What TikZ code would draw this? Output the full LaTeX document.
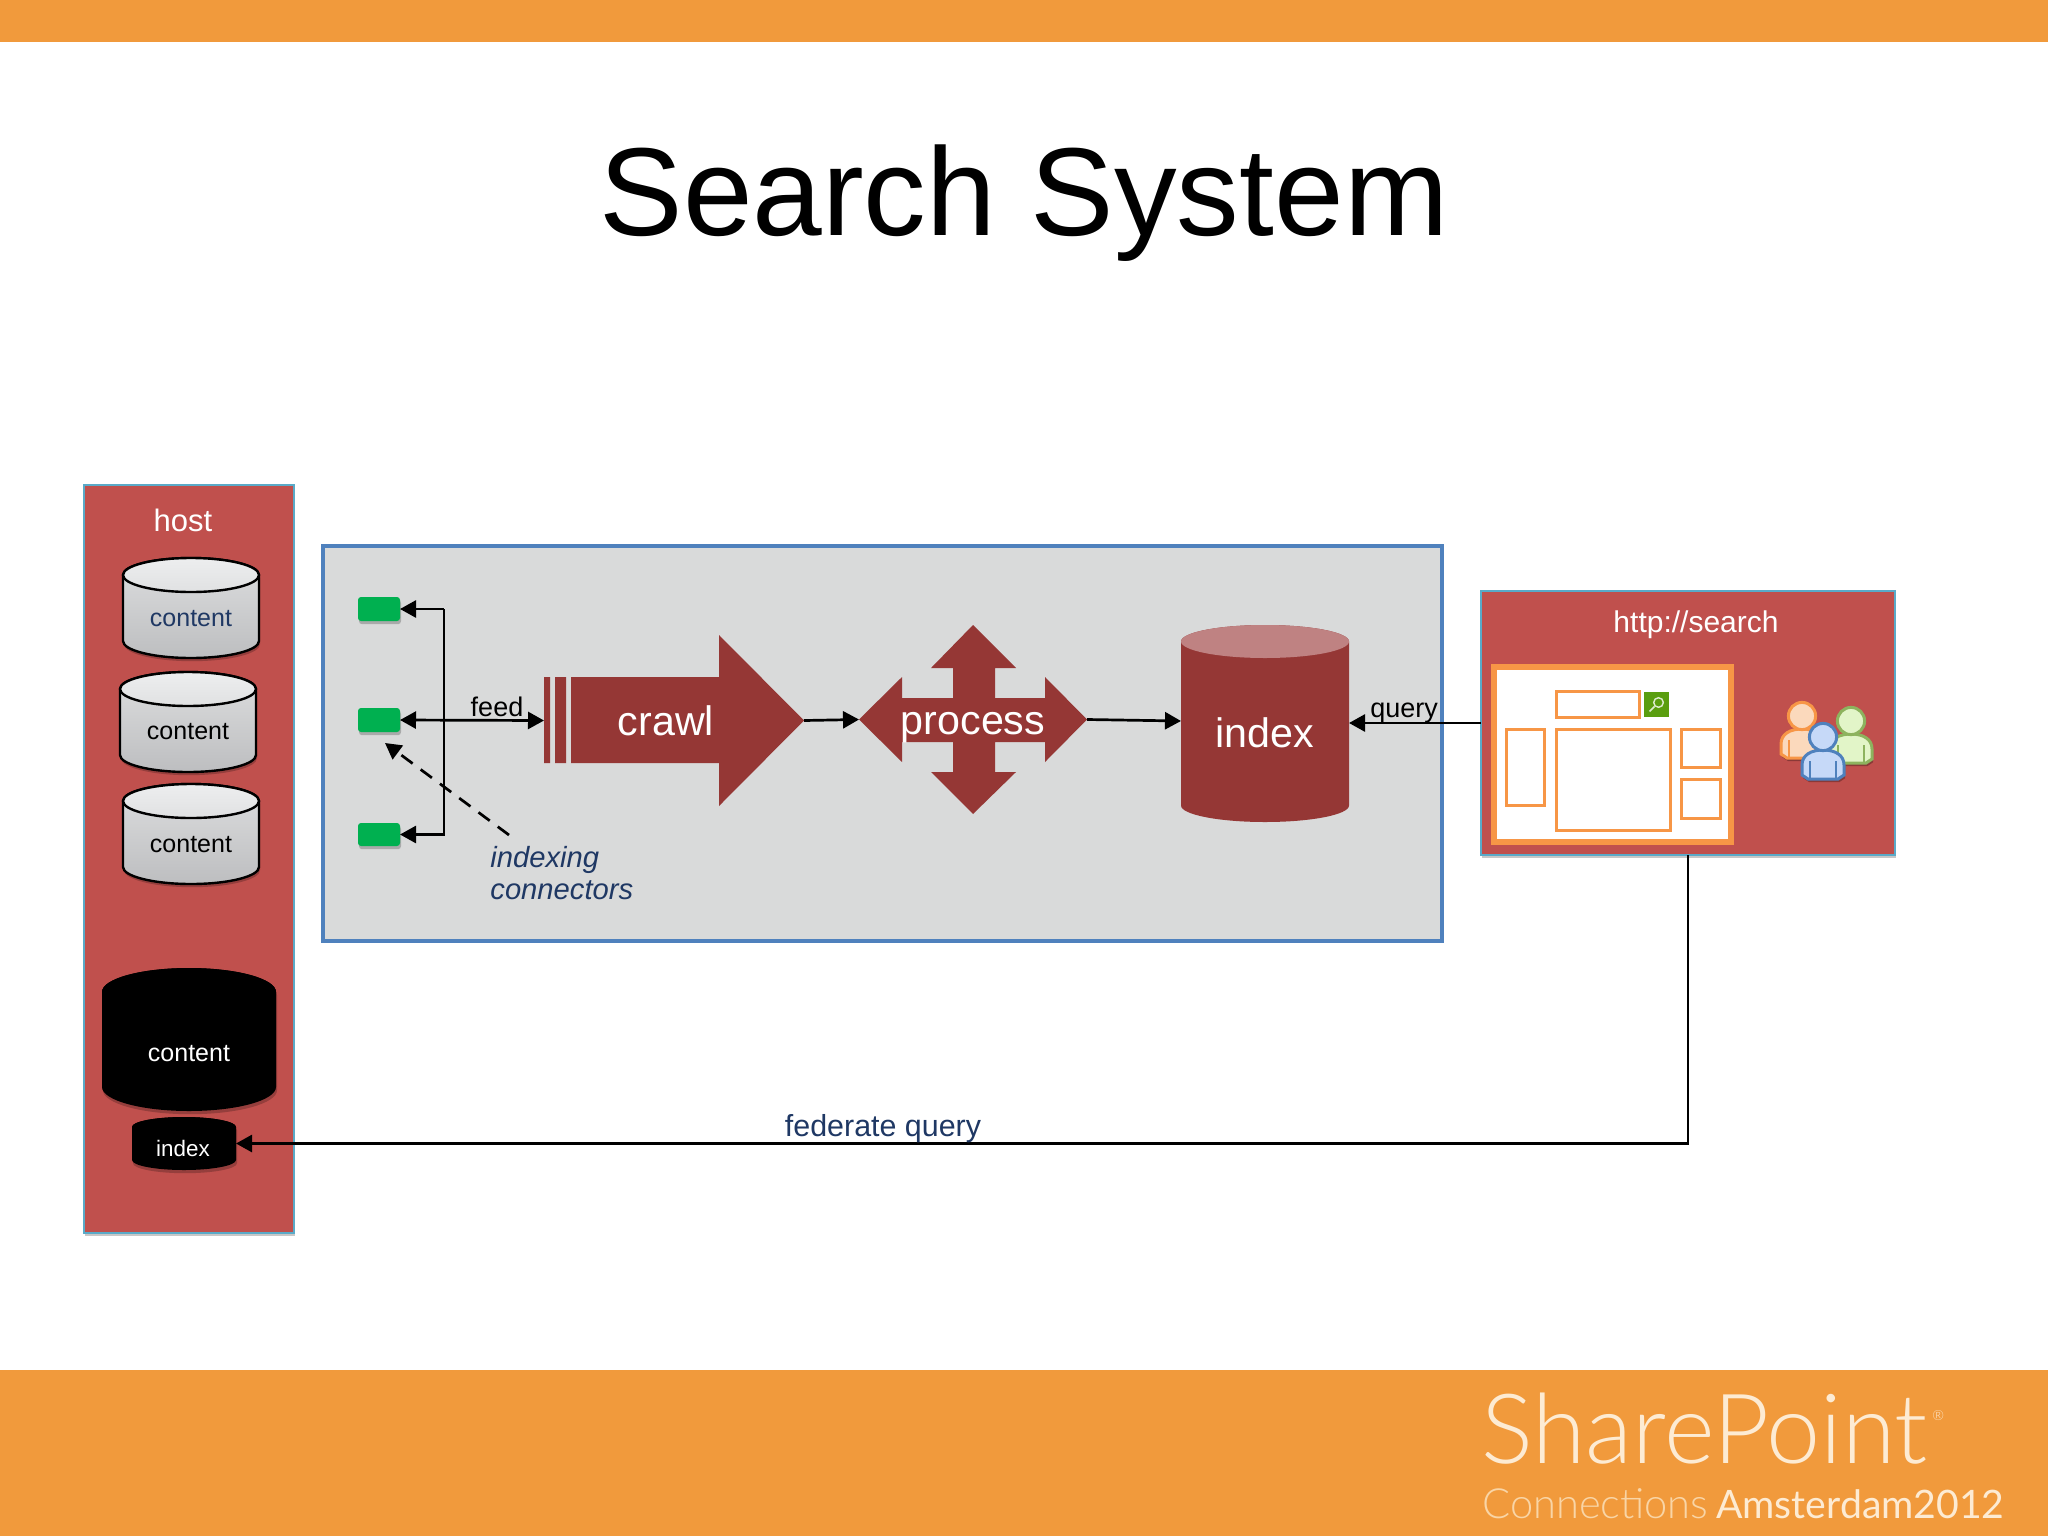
\documentclass[tikz,border=0pt]{standalone}
\usepackage{fontspec}
\setmainfont{Liberation Sans}
\newfontfamily\logofont{Lato Light}
\newfontfamily\logoreg{Lato}
\usetikzlibrary{arrows.meta,shadows}
\definecolor{band}{HTML}{F19A3C}
\definecolor{hostred}{HTML}{C0504D}
\definecolor{hostedge}{HTML}{5AAAC8}
\definecolor{deepred}{HTML}{953735}
\definecolor{toptint}{HTML}{BF8282}
\definecolor{panel}{HTML}{D9DADA}
\definecolor{panededge}{HTML}{4F81BD}
\definecolor{conngreen}{HTML}{00B050}
\definecolor{navy}{HTML}{1F3864}
\definecolor{pageorange}{HTML}{F79646}
\definecolor{btngreen}{HTML}{5A9E0F}
\definecolor{logocream}{HTML}{FDEBD3}
\definecolor{logopale}{HTML}{F9D5A6}
\definecolor{cyltop}{HTML}{EDEEEF}
\definecolor{cyltoplow}{HTML}{E0E1E2}
\definecolor{cylhigh}{HTML}{DDDEDF}
\definecolor{cyllow}{HTML}{BDBEC0}
\definecolor{persongreenedge}{HTML}{8DB35E}
\definecolor{persongreen}{HTML}{E2F5C8}
\definecolor{personblue}{HTML}{C6D9F8}
\definecolor{personpeach}{HTML}{FBD9BC}
\tikzset{
  softshadow/.style={drop shadow={shadow xshift=0.5pt,shadow yshift=-1.6pt,opacity=.22,fill=black}},
  hostbox/.style={draw=hostedge,line width=1.4pt,fill=hostred,softshadow},
  panelbox/.style={draw=panededge,line width=2.4pt,fill=panel},
  connbox/.style={fill=conngreen,rounded corners=1.5pt,softshadow},
  invisible/.style={},
  arrowline/.style={line width=1.35pt,black,-{Triangle[length=8pt,width=8.5pt]}},
  twoway/.style={line width=1.35pt,black,{Triangle[length=8pt,width=8.5pt]}-{Triangle[length=8pt,width=8.5pt]}},
  dashline/.style={line width=1.35pt,black,dash pattern=on 7pt off 5pt,-{Triangle[length=8pt,width=8.5pt]}},
  pagebox/.style={draw=pageorange,line width=1.5pt,fill=white},
  graycyl/.style={top color=cylhigh,bottom color=cyllow,draw=black,line width=1.2pt,softshadow},
  graytop/.style={top color=cyltop,bottom color=cyltoplow,draw=black,line width=1.2pt},
  lab/.style={anchor=base,inner sep=0pt},
  whitelab/.style={lab,text=white},
  figlab/.style={lab,font=\fontsize{20.6}{24}\selectfont,text=white},
  smalllab/.style={lab,font=\fontsize{12.5}{15}\selectfont},
}
\newcommand\bx[6]{%
  \pgfmathsetmacro\bw{(#5-#3)/2}\pgfmathsetmacro\bh{(#6-#4)/2}%
  \pgfmathsetmacro\bcx{(#3+#5)/2}\pgfmathsetmacro\bcy{(#4+#6)/2}%
  \node[inner sep=0pt,outer sep=0pt,minimum width=\bw pt,minimum height=\bh pt,#1] (#2) at (\bcx,\bcy) {};}
% cylinder: body style, top style, name, x1,y1,x2,y2,ry
\newcommand\cyl[8]{%
  \pgfmathsetmacro\rxx{(#6-#4)/4}\pgfmathsetmacro\ryy{#8/2}%
  \pgfmathsetmacro\cxx{(#4+#6)/2}\pgfmathsetmacro\ya{#5+#8}\pgfmathsetmacro\yb{#7-#8}%
  \path[#1] (#4,\ya) -- (#4,\yb) arc[start angle=180,end angle=360,x radius=\rxx pt,y radius=\ryy pt]
     -- (#6,\ya) arc[start angle=0,end angle=180,x radius=\rxx pt,y radius=\ryy pt] -- cycle;
  \path[#2] (\cxx,\ya) ellipse[x radius=\rxx pt,y radius=\ryy pt];
  \bx{invisible}{#3}{#4}{#5}{#6}{#7}}
% person icon: cx, cy, edge colour, fill colour
\newcommand\personicon[4]{%
  \begin{scope}[shift={(#1,#2)}]
    \path[draw=#3,line width=1.5pt,fill=#4,drop shadow={shadow xshift=0.6pt,shadow yshift=-1.6pt,opacity=.28,fill=black}]
      (-21,38) -- (-21,28) .. controls (-21,18) and (-12,13) .. (0,13) .. controls (12,13) and (21,18) .. (21,28)
      -- (21,38) -- (15,42) -- (-15,42) -- (-21,38) -- cycle;
    \draw[draw=#3,line width=1pt] (-13,24) -- (-13,41) (13,24) -- (13,41);
    \path[draw=#3,line width=1.5pt,fill=#4] (0,0) circle[radius=6.8pt];
  \end{scope}}
\begin{document}
\begin{tikzpicture}[x=0.5pt,y=-0.5pt]
\useasboundingbox (0,0) rectangle (2048,1536);
\fill[white] (0,0) rectangle (2048,1536);
\bx{fill=band}{topband}{0}{0}{2048}{42}
\bx{fill=band}{footband}{0}{1370}{2048}{1536}
\node[lab,font=\fontsize{62.6}{70}\selectfont] (title) at (1024,235) {Search System};

% host
\bx{hostbox}{host}{84}{485}{294}{1233}
\node[whitelab,font=\fontsize{15.5}{18}\selectfont] (hostlab) at (183,531) {host};
\cyl{graycyl}{graytop}{c1}{123}{558}{259}{658}{17}
\cyl{graycyl}{graytop}{c2}{120}{672}{256}{772}{17}
\cyl{graycyl}{graytop}{c3}{123}{784}{259}{884}{17}
\node[smalllab,text=navy] (c1lab) at (191,626) {content};
\node[smalllab] (c2lab) at (188,739) {content};
\node[smalllab] (c3lab) at (191,852) {content};
\cyl{fill=black,softshadow}{fill=black}{bigblack}{102}{968}{276}{1111}{24}
\cyl{fill=black,softshadow}{fill=black}{idxblack}{132}{1117}{236}{1170}{10}
\node[smalllab,text=white] (blacklab) at (189,1061) {content};
\node[lab,text=white,font=\fontsize{11.2}{13}\selectfont] (idxblacklab) at (183,1156) {index};

% panel
\bx{panelbox}{panel}{323}{546}{1442}{941}
\bx{connbox}{g1}{358}{597}{400}{621}
\bx{connbox}{g2}{358}{708}{400}{732}
\bx{connbox}{g3}{358}{823}{400}{846}
\coordinate (bustop) at (444,609);
\coordinate (busbot) at (444,834.5);
\bx{invisible}{crawlbox}{544}{635}{804}{806}
\fill[deepred] (544,677) rectangle (550,763) (555,677) rectangle (566,763);
\fill[deepred] (571,677) -- (719,677) -- (719,635) -- (crawlbox.east) -- (719,806) -- (719,763) -- (571,763) -- cycle;
\node[figlab] (crawllab) at (666,735) {crawl};
\bx{invisible}{procbox}{859}{625}{1087}{814}
\fill[deepred] (procbox.west) -- (902,677) -- (902,698) -- (953,698) -- (953,668) -- (931,668) -- (procbox.north)
  -- (1016,668) -- (995,668) -- (995,698) -- (1045,698) -- (1045,677) -- (procbox.east) -- (1045,762) -- (1045,742)
  -- (995,742) -- (995,772) -- (1016,772) -- (procbox.south) -- (931,772) -- (953,772) -- (953,742) -- (902,742) -- (902,762) -- cycle;
\node[figlab] (proclab) at (973,734) {process};
\cyl{fill=deepred}{fill=toptint}{idx}{1181}{625}{1349}{822}{16.5}
\node[figlab] (idxlab) at (1265,747) {index};

\draw[arrowline] (bustop) -- (g1.east);
\draw[arrowline] (bustop) -- (busbot) -- (g3.east);
\draw[twoway] (g2.east) -- (crawlbox.west);
\node[lab,font=\fontsize{13.5}{16}\selectfont] (feedlab) at (497,716) {feed};
\coordinate (dashstart) at (509,835);
\coordinate (dashend) at (385,743);
\draw[dashline] (dashstart) -- (dashend);
\node[lab,text=navy,font=\fontsize{14.6}{16}\selectfont\itshape,anchor=base west] (indexlab) at (490,867) {indexing};
\node[lab,text=navy,font=\fontsize{14.6}{16}\selectfont\itshape,anchor=base west] (connlab) at (490,899) {connectors};
\draw[arrowline] (crawlbox.east) -- (procbox.west);
\coordinate (idxin) at (1181,721);
\draw[arrowline] (procbox.east) -- (idxin);

% search box
\bx{hostbox}{search}{1481}{591}{1895}{855}
\node[whitelab,font=\fontsize{15}{18}\selectfont] (searchlab) at (1696,632) {http://search};
\coordinate (qstart) at (1481,723);
\coordinate (qend) at (1349,723);
\draw[arrowline] (qstart) -- (qend);
\node[lab,font=\fontsize{13.5}{16}\selectfont] (querylab) at (1404,717) {query};
\bx{draw=pageorange,line width=2.8pt,fill=white}{page}{1494}{667}{1731}{842}
\bx{pagebox}{field}{1556}{691}{1639}{717}
\bx{fill=btngreen}{btn}{1644}{692}{1669}{717}
\draw[white!80!btngreen,line width=.7pt] ([shift={(2,-2)}]btn.center) circle[radius=2.4pt];
\draw[white!80!btngreen,line width=.8pt] ([shift={(-2,2)}]btn.center) -- ([shift={(-7,7)}]btn.center);
\bx{pagebox}{pleft}{1506}{729}{1544}{805}
\bx{pagebox}{pmain}{1556}{729}{1670}{830}
\bx{pagebox}{pr1}{1681}{729}{1720}{767}
\bx{pagebox}{pr2}{1681}{779}{1720}{818}
\personicon{1802}{716}{pageorange}{personpeach}
\personicon{1851}{721}{persongreenedge}{persongreen}
\personicon{1823}{737}{panededge}{personblue}

% federate
\coordinate (fedstart) at (search.south -| 1688,0);
\coordinate (fedturn) at (1688,1143.5);
\draw[arrowline] (fedstart) -- (fedturn) -- (idxblack.east);
\node[lab,text=navy,font=\fontsize{15.2}{18}\selectfont] (fedlab) at (883,1136) {federate query};

% logo
\node[anchor=base west,inner sep=0pt,text=logocream,font=\fontsize{48.5}{50}\logofont] (logo) at (1481,1463) {SharePoint};
\node[anchor=base west,inner sep=0pt,text=logocream,font=\fontsize{7}{8}\logofont] (reg) at (1932,1420) {®};
\node[anchor=base west,inner sep=0pt,text=logopale,font=\fontsize{20.8}{24}\logofont] (logo2) at (1482,1518) {Connections};
\node[anchor=base east,inner sep=0pt,text=logocream,font=\fontsize{19.6}{24}\logoreg] (logo3) at (2005,1518) {Amsterdam2012};
\end{tikzpicture}
\end{document}
